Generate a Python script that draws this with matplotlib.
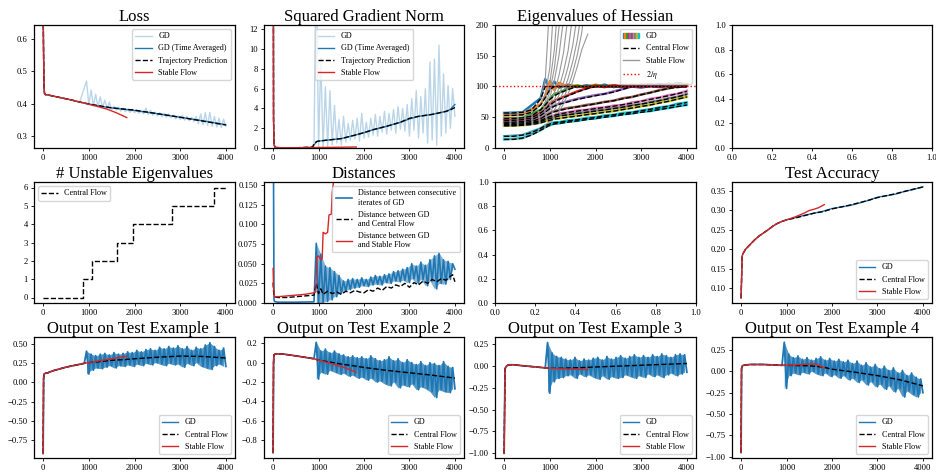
import matplotlib
matplotlib.use("Agg")
import matplotlib.pyplot as plt
from matplotlib.patches import Patch
from matplotlib.lines import Line2D
from matplotlib.legend_handler import HandlerTuple
from matplotlib.ticker import MultipleLocator

plt.rcParams['font.family'] = ['Liberation Serif', 'DejaVu Serif']
plt.rcParams['mathtext.fontset'] = 'stix'
plt.rcParams['xtick.labelsize'] = 6.2
plt.rcParams['ytick.labelsize'] = 6.2
plt.rcParams['xtick.major.size'] = 2.5
plt.rcParams['ytick.major.size'] = 2.5
plt.rcParams['xtick.major.width'] = 0.6
plt.rcParams['ytick.major.width'] = 0.6
plt.rcParams['xtick.major.pad'] = 2
plt.rcParams['ytick.major.pad'] = 2
plt.rcParams['axes.linewidth'] = 0.9
plt.rcParams['legend.fontsize'] = 5.9

GD = '#1f77b4'
CF = 'black'
SF = '#d62728'

# ---------------- data ----------------
# grid of the GD oscillations: peak at x, trough at x + 50
osc_x = list(range(950, 4000, 100))

# Loss
loss_x = [0, 10, 20, 30, 50, 100, 200, 400, 600, 800, 1000, 1200, 1500, 2000, 2500, 3000, 3500, 4000]
loss_avg = [0.69, 0.55, 0.45, 0.432, 0.428, 0.427, 0.424, 0.418, 0.412, 0.405, 0.399, 0.393, 0.387, 0.379, 0.369, 0.358, 0.347, 0.335]
loss_pred = [0.69, 0.55, 0.45, 0.432, 0.428, 0.427, 0.424, 0.418, 0.412, 0.405, 0.399, 0.394, 0.387, 0.38, 0.369, 0.358, 0.346, 0.334]
loss_sf_x = [0, 10, 20, 30, 50, 100, 200, 400, 600, 800, 1000, 1200, 1400, 1600, 1830]
loss_sf = [0.69, 0.55, 0.45, 0.432, 0.428, 0.427, 0.424, 0.418, 0.412, 0.405, 0.398, 0.391, 0.383, 0.372, 0.357]
loss_hi = [0.47, 0.442, 0.429, 0.421, 0.411, 0.405, 0.392, 0.39, 0.386, 0.384, 0.383, 0.38, 0.378, 0.386, 0.38, 0.374,
           0.372, 0.37, 0.368, 0.365, 0.362, 0.364, 0.36, 0.358, 0.36, 0.368, 0.372, 0.373, 0.36, 0.355, 0.352]
loss_lo = [0.397, 0.392, 0.39, 0.387, 0.384, 0.382, 0.38, 0.377, 0.375, 0.373, 0.372, 0.37, 0.368, 0.366, 0.364, 0.362,
           0.36, 0.358, 0.356, 0.353, 0.351, 0.349, 0.347, 0.345, 0.338, 0.334, 0.333, 0.33, 0.328, 0.326, 0.33]

# Squared gradient norm
gn_x = [0, 10, 20, 50, 200, 500, 870, 900, 960, 1000, 1200, 1500, 1800, 2000, 2200, 2500, 2800, 3000, 3200, 3500, 3800, 3900, 4000]
gn_avg = [40, 3, 0.3, 0.05, 0.02, 0.02, 0.05, 0.3, 0.65, 0.7, 0.8, 0.95, 1.3, 1.55, 1.85, 2.2, 2.6, 2.95, 3.2, 3.4, 3.7, 3.9, 4.4]
gn_pred = [40, 3, 0.3, 0.05, 0.02, 0.02, 0.1, 0.45, 0.65, 0.7, 0.8, 0.95, 1.3, 1.55, 1.85, 2.2, 2.6, 3.0, 3.2, 3.4, 3.7, 3.85, 4.1]
gn_sf_x = [0, 10, 20, 50, 200, 500, 900, 1200, 1500, 1830]
gn_sf = [40, 3, 0.3, 0.05, 0.03, 0.03, 0.05, 0.06, 0.08, 0.1]
gn_hi = [20, 9, 6.2, 5.8, 4.3, 2.9, 3.2, 2.5, 2.8, 3.0, 3.5, 2.6, 3.0, 3.4, 3.2, 3.7,
         3.5, 3.9, 4.2, 4.0, 4.4, 5.0, 5.8, 5.2, 6.0, 8.7, 9.0, 10.4, 7.5, 6.3, 6.0]
gn_lo = [0.0, 0.0, 0.1, 0.3, 0.5, 0.3, 0.6, 0.8, 0.9, 0.7, 1.0, 1.1, 1.3, 1.2, 1.6, 1.4,
         1.8, 1.5, 1.9, 1.7, 1.2, 1.8, 1.0, 1.5, 0.5, 0.8, 0.3, 1.2, 1.5, 2.0, 3.2]

# Eigenvalues of the Hessian
eig_colors = ['#1f77b4', '#ff7f0e', '#2ca02c', '#d62728', '#9467bd', '#8c564b',
              '#e377c2', '#7f7f7f', '#bcbd22', '#17becf', '#17becf']
eig_x = [0, 200, 400, 600, 800, 900, 1000, 1100, 1200, 1400, 1600, 1800, 2000, 2400, 2800, 3200, 3600, 4000]
eig_cf = [
    [57, 57, 58, 62, 80, 100, 100, 100, 100, 100, 100, 100, 100, 100, 100, 100, 100, 100],
    [53, 53, 54, 58, 70, 82, 95, 100, 100, 100, 100, 100, 100, 100, 100, 100, 100, 100],
    [48, 48, 49, 52, 62, 70, 79, 85, 89, 95, 100, 100, 100, 100, 100, 100, 100, 100],
    [45, 45, 46, 49, 57, 63, 70, 75, 79, 85, 91, 96, 100, 100, 100, 100, 100, 100],
    [42, 42, 43, 46, 53, 58, 64, 68, 71, 75, 79, 82, 85, 91, 100, 100, 100, 100],
    [40, 40, 41, 43, 48, 52, 56, 59, 61, 64, 67, 69, 72, 77, 83, 90, 97, 100],
    [38, 38, 39, 41, 45, 48, 51, 53, 55, 58, 60, 62, 64, 68, 73, 79, 85, 92],
    [37, 37, 38, 40, 43, 46, 48, 50, 52, 54, 56, 58, 60, 64, 69, 74, 80, 87],
    [36, 36, 37, 38, 41, 43, 45, 47, 48, 50, 52, 54, 56, 60, 65, 70, 76, 83],
    [19, 19, 21, 25, 32, 36, 39, 41, 42, 44, 46, 48, 50, 54, 58, 63, 68, 74],
    [14, 14, 16, 21, 29, 33, 37, 39, 40, 42, 44, 46, 48, 52, 56, 60, 65, 70],
]
eig_gd_x = [0, 400, 800, 900, 1000, 1100, 1200, 1400, 1600, 1800, 2000, 2200, 2400, 2600, 2800, 3000, 3200, 3400, 3600, 3800, 4000]
eig_gd = [
    [57, 58, 81, 112, 96, 108, 98, 103, 99, 102, 100, 103, 99, 102, 100, 103, 101, 104, 102, 106, 103],
    [53, 54, 71, 85, 109, 94, 106, 100, 102, 99, 103, 100, 102, 99, 103, 101, 104, 100, 105, 102, 104],
    [48, 49, 62, 71, 80, 88, 90, 97, 101, 99, 102, 100, 101, 99, 102, 100, 103, 101, 104, 101, 103],
    [45, 46, 57, 64, 72, 77, 80, 86, 92, 97, 101, 99, 102, 100, 101, 99, 102, 100, 103, 101, 102],
    [42, 43, 53, 59, 66, 69, 72, 76, 80, 83, 86, 88, 92, 96, 100, 98, 101, 99, 102, 99, 101],
    [40, 41, 48, 53, 57, 60, 62, 65, 67, 70, 72, 75, 77, 81, 83, 87, 90, 94, 97, 100, 101],
    [38, 39, 45, 48, 52, 53, 56, 58, 61, 62, 65, 66, 69, 70, 74, 76, 80, 82, 86, 88, 93],
    [37, 38, 43, 46, 49, 50, 53, 54, 57, 58, 61, 62, 65, 66, 70, 71, 75, 77, 81, 83, 88],
    [36, 37, 41, 44, 45, 48, 48, 51, 52, 55, 56, 59, 60, 63, 65, 68, 70, 74, 76, 80, 83],
    [19, 21, 32, 37, 39, 42, 42, 45, 46, 49, 50, 53, 54, 57, 58, 61, 63, 66, 68, 72, 74],
    [14, 16, 29, 34, 37, 40, 40, 43, 44, 47, 48, 51, 52, 55, 56, 59, 60, 63, 65, 68, 70],
]
eig_sf_x = [0, 400, 700, 800, 900, 1000, 1100, 1200, 1300, 1400, 1500, 1600, 1700, 1830]
eig_sf = [
    [57, 58, 68, 80, 110, 240, 400, 400, 400, 400, 400, 400, 400, 400],
    [53, 54, 62, 70, 88, 130, 250, 400, 400, 400, 400, 400, 400, 400],
    [48, 49, 56, 62, 75, 105, 160, 260, 400, 400, 400, 400, 400, 400],
    [45, 46, 52, 57, 68, 92, 130, 195, 300, 400, 400, 400, 400, 400],
    [42, 43, 48, 53, 62, 82, 110, 150, 210, 320, 400, 400, 400, 400],
    [40, 41, 45, 48, 56, 70, 90, 118, 155, 215, 320, 400, 400, 400],
    [38, 39, 42, 45, 51, 62, 78, 98, 124, 158, 215, 320, 400, 400],
    [37, 38, 41, 43, 48, 57, 70, 86, 106, 132, 166, 215, 320, 400],
    [36, 37, 39, 41, 45, 52, 62, 75, 92, 113, 140, 175, 225, 350],
    [19, 21, 28, 32, 37, 44, 53, 65, 80, 99, 122, 151, 188, 270],
    [14, 16, 24, 29, 34, 41, 49, 59, 72, 88, 108, 132, 160, 185],
]
eta_line = 100

# Number of unstable eigenvalues
unst_x = [0, 870, 1060, 1620, 1970, 2820, 3730, 4000]
unst_n = [0, 1, 2, 3, 4, 5, 6, 6]

# Distances
dist_gd_x0 = [0, 20, 30, 100, 500, 900]
dist_gd_y0 = [0.3, 0.005, 0.002, 0.001, 0.001, 0.0015]
dist_hi = [0.076, 0.062, 0.047, 0.045, 0.04, 0.035, 0.028, 0.03, 0.031, 0.03, 0.032, 0.03, 0.033, 0.035, 0.034, 0.036,
           0.037, 0.04, 0.041, 0.043, 0.045, 0.05, 0.047, 0.052, 0.048, 0.055, 0.06, 0.064, 0.055, 0.053, 0.05]
dist_lo = [0.0, 0.0, 0.002, 0.004, 0.008, 0.012, 0.015, 0.017, 0.019, 0.02, 0.022, 0.021, 0.023, 0.024, 0.023, 0.026,
           0.025, 0.028, 0.027, 0.029, 0.026, 0.031, 0.025, 0.03, 0.022, 0.028, 0.018, 0.025, 0.024, 0.03, 0.043]
dist_cf_x = [0, 10, 30, 100, 300, 500, 700, 900, 950, 1000, 1050, 1100] + list(range(1200, 4000, 100)) + [3950, 4000]
dist_cf = [0.026, 0.015, 0.008, 0.007, 0.007, 0.008, 0.009, 0.01, 0.025, 0.012, 0.018, 0.011,
           0.015, 0.012, 0.014, 0.011, 0.015, 0.013, 0.016, 0.014, 0.013, 0.017, 0.015, 0.019, 0.016, 0.021,
           0.019, 0.023, 0.021, 0.025, 0.02, 0.026, 0.023, 0.028, 0.025, 0.03, 0.027, 0.031, 0.029, 0.034,
           0.036, 0.027]
dist_sf_x = [0, 10, 30, 100, 300, 500, 700, 900, 940, 960, 1000, 1050, 1080, 1100, 1150, 1200, 1230, 1280, 1300, 1330, 1360]
dist_sf = [0.044, 0.02, 0.008, 0.008, 0.009, 0.01, 0.011, 0.013, 0.014, 0.058, 0.06, 0.055, 0.056, 0.09, 0.088, 0.09,
           0.112, 0.113, 0.14, 0.155, 0.2]

# Test accuracy
acc_x = [0, 10, 20, 30, 50, 100, 200, 300, 400, 500, 600, 700, 800, 900, 1000, 1200, 1400, 1600, 1800, 2000,
         2200, 2400, 2600, 2800, 3000, 3200, 3400, 3600, 3800, 4000]
acc_gd = [0.075, 0.12, 0.175, 0.185, 0.19, 0.2, 0.212, 0.224, 0.234, 0.242, 0.25, 0.259, 0.266, 0.271, 0.275,
          0.281, 0.287, 0.292, 0.297, 0.304, 0.308, 0.312, 0.318, 0.325, 0.333, 0.337, 0.341, 0.348, 0.353, 0.36]
acc_cf = [0.075, 0.12, 0.175, 0.185, 0.19, 0.2, 0.212, 0.224, 0.234, 0.242, 0.25, 0.259, 0.266, 0.271, 0.275,
          0.28, 0.286, 0.292, 0.296, 0.303, 0.308, 0.313, 0.319, 0.325, 0.332, 0.337, 0.342, 0.348, 0.354, 0.359]
acc_sf_x = [0, 10, 20, 30, 50, 100, 200, 300, 400, 500, 600, 700, 800, 900, 1000, 1100, 1200, 1300, 1400, 1500,
            1600, 1700, 1830]
acc_sf = [0.075, 0.12, 0.175, 0.185, 0.19, 0.2, 0.212, 0.224, 0.234, 0.242, 0.25, 0.259, 0.266, 0.271, 0.275,
          0.279, 0.283, 0.288, 0.293, 0.299, 0.302, 0.306, 0.314]

# Outputs on four test examples
out_x = [0, 10, 20, 50, 100, 200, 500, 900, 1000, 1200, 1500, 1800, 2000, 2500, 3000, 3500, 4000]
out_sf_x = [0, 10, 20, 50, 100, 200, 500, 900, 1000, 1200, 1500, 1650, 1830]

out1_cf = [-0.93, 0.05, 0.11, 0.12, 0.125, 0.15, 0.2, 0.25, 0.26, 0.27, 0.29, 0.3, 0.31, 0.33, 0.345, 0.34, 0.32]
out1_sf = [-0.93, 0.05, 0.11, 0.12, 0.125, 0.15, 0.2, 0.25, 0.26, 0.28, 0.31, 0.325, 0.345]
out1_hi = [0.41, 0.37, 0.35, 0.37, 0.38, 0.36, 0.39, 0.37, 0.38, 0.4, 0.39, 0.42, 0.4, 0.43, 0.44, 0.42,
           0.46, 0.44, 0.47, 0.45, 0.48, 0.44, 0.47, 0.42, 0.46, 0.44, 0.49, 0.52, 0.47, 0.42, 0.45]
out1_lo = [0.11, 0.16, 0.19, 0.18, 0.2, 0.22, 0.19, 0.22, 0.21, 0.23, 0.21, 0.24, 0.22, 0.25, 0.23, 0.26,
           0.24, 0.22, 0.25, 0.23, 0.24, 0.2, 0.25, 0.22, 0.26, 0.21, 0.19, 0.17, 0.22, 0.24, 0.21]

out2_cf = [-0.93, 0.0, 0.08, 0.09, 0.09, 0.09, 0.07, 0.04, 0.025, 0.01, -0.015, -0.035, -0.05, -0.08, -0.105, -0.13, -0.16]
out2_sf = [-0.93, 0.0, 0.08, 0.09, 0.09, 0.09, 0.07, 0.04, 0.025, 0.0, -0.04, -0.065, -0.1]
out2_hi = [0.21, 0.12, 0.14, 0.1, 0.12, 0.09, 0.08, 0.06, 0.07, 0.05, 0.06, 0.04, 0.07, 0.04, 0.02, 0.03,
           0.06, 0.02, 0.04, 0.0, 0.03, 0.0, -0.02, 0.01, -0.03, 0.0, -0.01, -0.03, 0.01, -0.04, -0.05]
out2_lo = [-0.17, -0.1, -0.12, -0.08, -0.1, -0.12, -0.11, -0.14, -0.13, -0.16, -0.15, -0.18, -0.16, -0.2, -0.19, -0.22,
           -0.24, -0.2, -0.26, -0.23, -0.25, -0.22, -0.28, -0.25, -0.27, -0.3, -0.36, -0.28, -0.3, -0.31, -0.27]

out3_cf = [-1.0, -0.5, -0.03, 0.0, 0.015, 0.015, 0.0, -0.02, -0.025, -0.025, -0.02, -0.015, -0.01, 0.0, 0.01, 0.02, 0.03]
out3_sf = [-1.0, -0.5, -0.03, 0.0, 0.015, 0.015, 0.0, -0.02, -0.025, -0.03, -0.035, -0.037, -0.04]
out3_hi = [0.27, 0.15, 0.11, 0.1, 0.08, 0.07, 0.1, 0.06, 0.08, 0.07, 0.09, 0.1, 0.07, 0.11, 0.08, 0.1,
           0.12, 0.09, 0.11, 0.13, 0.1, 0.12, 0.1, 0.13, 0.11, 0.14, 0.12, 0.1, 0.13, 0.14, 0.13]
out3_lo = [-0.31, -0.18, -0.14, -0.13, -0.11, -0.1, -0.14, -0.09, -0.12, -0.1, -0.13, -0.15, -0.11, -0.15, -0.12, -0.14,
           -0.13, -0.1, -0.12, -0.14, -0.11, -0.13, -0.09, -0.12, -0.1, -0.13, -0.1, -0.08, -0.11, -0.09, -0.07]

out4_cf = [-0.95, 0.03, 0.06, 0.07, 0.075, 0.08, 0.08, 0.07, 0.07, 0.068, 0.065, 0.05, 0.025, -0.01, -0.05, -0.1, -0.17]
out4_sf = [-0.95, 0.03, 0.06, 0.07, 0.075, 0.08, 0.08, 0.07, 0.07, 0.075, 0.085, 0.085, 0.04]
out4_hi = [0.34, 0.2, 0.16, 0.18, 0.14, 0.16, 0.13, 0.15, 0.17, 0.13, 0.15, 0.12, 0.14, 0.11, 0.13, 0.09,
           0.12, 0.07, 0.1, 0.05, 0.08, 0.03, 0.06, 0.01, 0.04, -0.02, 0.01, -0.05, -0.02, -0.07, -0.09]
out4_lo = [-0.2, -0.05, -0.02, -0.04, -0.01, -0.03, 0.0, -0.03, -0.05, -0.02, -0.06, -0.04, -0.08, -0.05, -0.1, -0.08,
           -0.13, -0.1, -0.16, -0.12, -0.18, -0.15, -0.21, -0.17, -0.24, -0.2, -0.3, -0.23, -0.27, -0.3, -0.25]


def zigzag(x0, y0, hi, lo):
    # smooth start, then one peak and one trough per osc_x step
    xs = [x for x in x0 if x < osc_x[0]]
    ys = list(y0[:len(xs)])
    for x, h, l in zip(osc_x, hi, lo):
        xs += [x, x + 50]
        ys += [h, l]
    return xs, ys


# ---------------- layout ----------------
W, H = 937, 474
fig = plt.figure(figsize=(W / 100, H / 100), dpi=100)
cols = [(34, 235), (264, 464), (495, 696), (732, 932)]
rows = [(25, 148), (182, 303), (337, 458)]


def make_ax(r, c):
    l, rr = cols[c]
    t, b = rows[r]
    return fig.add_axes([l / W, 1 - b / H, (rr - l) / W, (b - t) / H])


axs = [[make_ax(r, c) for c in range(4)] for r in range(3)]


def title(ax, s):
    ax.set_title(s, fontsize=12, pad=3)


XL = (-200, 4200)

# Loss
ax = axs[0][0]
x, y = zigzag(loss_x, loss_avg, loss_hi, loss_lo)
ax.plot(x, y, color=GD, alpha=0.3, lw=1, label='GD')
ax.plot(loss_x, loss_avg, color=GD, lw=1, label='GD (Time Averaged)')
ax.plot(loss_x, loss_pred, color=CF, ls='--', lw=1, label='Trajectory Prediction')
ax.plot(loss_sf_x, loss_sf, color=SF, lw=1, label='Stable Flow')
ax.set_xlim(XL)
ax.set_ylim(0.263, 0.643)
ax.legend(loc='upper right')
title(ax, 'Loss')

# Squared gradient norm
ax = axs[0][1]
x, y = zigzag(gn_x, gn_avg, gn_hi, gn_lo)
ax.plot(x, y, color=GD, alpha=0.3, lw=1, label='GD')
ax.plot(gn_x, gn_avg, color=GD, lw=1, label='GD (Time Averaged)')
ax.plot(gn_x, gn_pred, color=CF, ls='--', lw=1, label='Trajectory Prediction')
ax.plot(gn_sf_x, gn_sf, color=SF, lw=1, label='Stable Flow')
ax.set_xlim(XL)
ax.set_ylim(0, 12.44)
ax.legend(loc='upper center')
title(ax, 'Squared Gradient Norm')

# Eigenvalues of Hessian
ax = axs[0][2]
for vals, c in zip(eig_gd, eig_colors):
    ax.plot(eig_gd_x, vals, color=c, lw=1.8)
for vals in eig_sf:
    ax.plot(eig_sf_x, vals, color='#999999', lw=0.8)
for vals in eig_cf:
    ax.plot(eig_x, vals, color=CF, ls='--', lw=1)
ax.axhline(eta_line, color='red', ls=':', lw=1)
ax.set_xlim(XL)
ax.set_ylim(0, 200)
gd_handle = tuple(Patch(color=c) for c in eig_colors[:10])
ax.legend([gd_handle, Line2D([], [], color=CF, ls='--', lw=1),
           Line2D([], [], color='#999999', lw=1), Line2D([], [], color='red', ls=':', lw=1)],
          ['GD', 'Central Flow', 'Stable Flow', r'$2/\eta$'],
          handler_map={tuple: HandlerTuple(ndivide=None, pad=0)}, loc='upper right')
title(ax, 'Eigenvalues of Hessian')

# # Unstable eigenvalues
ax = axs[1][0]
ax.plot(unst_x, unst_n, color=CF, ls='--', lw=1, drawstyle='steps-post', label='Central Flow')
ax.set_xlim(XL)
ax.legend(loc='upper left')
title(ax, '# Unstable Eigenvalues')

# Distances
ax = axs[1][1]
x, y = zigzag(dist_gd_x0, dist_gd_y0, dist_hi, dist_lo)
ax.plot(x, y, color=GD, lw=1.2, label='Distance between consecutive\niterates of GD')
ax.fill_between(osc_x, dist_hi, dist_lo, color=GD, lw=0, alpha=0.55)
ax.plot(dist_cf_x, dist_cf, color=CF, ls='--', lw=1, label='Distance between GD\nand Central Flow')
ax.plot(dist_sf_x, dist_sf, color=SF, lw=1, label='Distance between GD\nand Stable Flow')
ax.set_xlim(XL)
ax.set_ylim(0, 0.154)
ax.legend(loc='upper right')
title(ax, 'Distances')

# Test accuracy
ax = axs[1][3]
ax.plot(acc_x, acc_gd, color=GD, lw=1, label='GD')
ax.plot(acc_x, acc_cf, color=CF, ls='--', lw=1, label='Central Flow')
ax.plot(acc_sf_x, acc_sf, color=SF, lw=1, label='Stable Flow')
ax.set_xlim(XL)
ax.set_ylim(0.062, 0.372)
ax.legend(loc='lower right')
title(ax, 'Test Accuracy')

# Outputs
outs = [(out1_cf, out1_sf, out1_hi, out1_lo, (-0.99, 0.595), 0.25),
        (out2_cf, out2_sf, out2_hi, out2_lo, (-0.986, 0.265), 0.2),
        (out3_cf, out3_sf, out3_hi, out3_lo, (-1.054, 0.334), 0.25),
        (out4_cf, out4_sf, out4_hi, out4_lo, (-1.015, 0.402), 0.25)]
for i, (cf, sf, hi, lo, yl, step) in enumerate(outs):
    ax = axs[2][i]
    x, y = zigzag(out_x, cf, hi, lo)
    ax.plot(x, y, color=GD, lw=1.3)
    ax.fill_between(osc_x, hi, lo, color=GD, lw=0, alpha=0.75)
    ax.plot(out_x, cf, color=CF, ls='--', lw=1)
    ax.plot(out_sf_x, sf, color=SF, lw=1)
    ax.set_xlim(XL)
    ax.set_ylim(yl)
    ax.yaxis.set_major_locator(MultipleLocator(step))
    ax.legend([Line2D([], [], color=GD, lw=1), Line2D([], [], color=CF, ls='--', lw=1),
               Line2D([], [], color=SF, lw=1)], ['GD', 'Central Flow', 'Stable Flow'], loc='lower right')
    title(ax, f'Output on Test Example {i + 1}')

fig.savefig('out.png', dpi=100)
